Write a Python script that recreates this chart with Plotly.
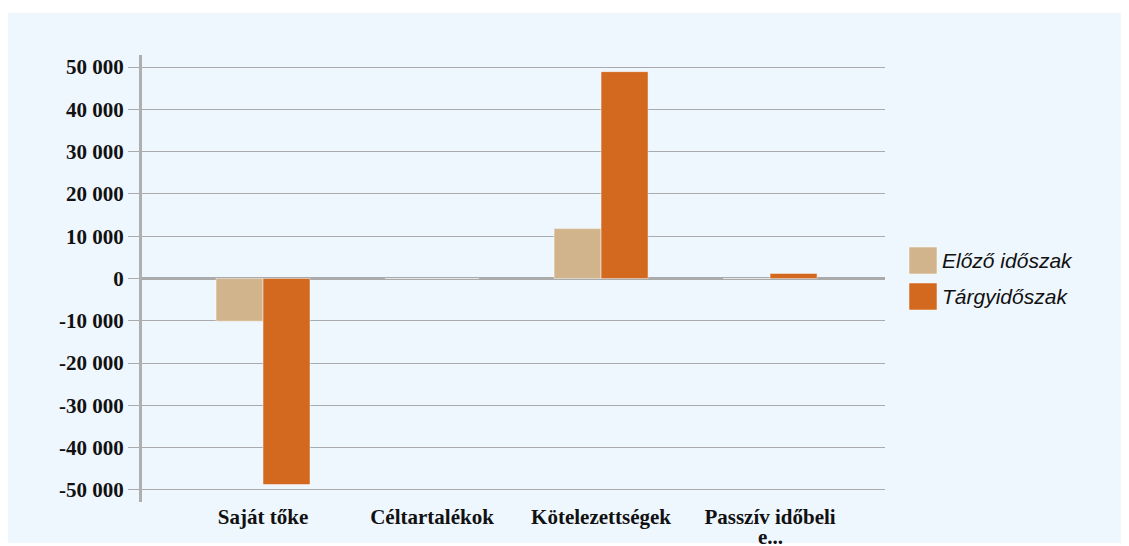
import plotly.graph_objects as go

categories = ["Saját tőke", "Céltartalékok", "Kötelezettségek", "Passzív időbeli"]
label_tail = "e..."  # second (truncated) line of the last category label
series_names = ["Előző időszak", "Tárgyidőszak"]
elozo = [-10100, 0, 11800, 0]
targy = [-48700, 0, 48900, 1200]
tick_vals = [-50000, -40000, -30000, -20000, -10000, 0, 10000, 20000, 30000, 40000, 50000]
tick_text = ["-50 000", "-40 000", "-30 000", "-20 000", "-10 000", "0",
             "10 000", "20 000", "30 000", "40 000", "50 000"]
colors = ["#D2B48C", "#D2691E"]

# page has an 8px body margin; figure coordinates are page coordinates minus 8
OFF = 8
W, H = 1129 - OFF, 546 - OFF
L, R, T, B = 142 - OFF, 885 - OFF, 55 - OFF, 502 - OFF

fig = go.Figure()
for name, vals, col in zip(series_names, [elozo, targy], colors):
    fig.add_trace(go.Bar(
        x=list(range(len(categories))), y=vals, name=name,
        marker=dict(color=col, line=dict(color="rgba(255,255,255,0.45)", width=1)),
        showlegend=False,
    ))

def px_x(p):
    return (p - OFF - L) / (R - L)

def px_y(p):
    return (B - (p - OFF)) / (B - T)

tick_font = dict(family="Liberation Serif, Times New Roman", size=21, color="#111111", weight="bold")

shapes = [dict(type="rect", xref="paper", yref="paper", layer="below",
               x0=px_x(8), x1=px_x(1122), y0=px_y(543), y1=px_y(13),
               fillcolor="#EEF6FE", line=dict(width=0))]
annotations = [dict(xref="x", yref="paper", x=len(categories) - 1, y=px_y(537),
                    xanchor="center", yanchor="middle", showarrow=False,
                    height=16, borderpad=0,
                    text=label_tail, font=tick_font)]
for i, (name, col) in enumerate(zip(series_names, colors)):
    top = 247 + i * 36
    shapes.append(dict(type="rect", xref="paper", yref="paper",
                       x0=px_x(909), x1=px_x(937), y0=px_y(top + 27), y1=px_y(top),
                       fillcolor=col, line=dict(color="rgba(255,255,255,0.5)", width=1)))
    annotations.append(dict(xref="paper", yref="paper", x=px_x(940), y=px_y(top + 13.5),
                            xanchor="left", yanchor="middle", showarrow=False,
                            text="<i>" + name + "</i>",
                            font=dict(family="Liberation Sans, Arial", size=21,
                                      color="#111111", weight="normal")))

fig.update_layout(
    width=W, height=H,
    margin=dict(l=L, r=W - R, t=T, b=H - B, pad=0, autoexpand=False),
    paper_bgcolor="white", plot_bgcolor="rgba(0,0,0,0)",
    barmode="group", bargap=0.444, bargroupgap=0,
    shapes=shapes, annotations=annotations,
    xaxis=dict(
        tickmode="array", tickvals=list(range(len(categories))), ticktext=categories,
        range=[-0.716, 3.68], showgrid=False, zeroline=False, showline=False,
        ticks="", tickfont=tick_font, automargin=False,
    ),
    yaxis=dict(
        range=[-52840, 52840], tickmode="array", tickvals=tick_vals, ticktext=tick_text,
        showgrid=True, gridcolor="#A9ABAE", gridwidth=1,
        zeroline=True, zerolinecolor="#AAAAAA", zerolinewidth=3,
        showline=True, linecolor="#AFAFAF", linewidth=3,
        ticks="outside", ticklen=11, tickcolor="#A9ABAE", tickwidth=1,
        tickfont=tick_font, automargin=False,
    ),
)

fig.write_html("out.html", config={"displayModeBar": False})
